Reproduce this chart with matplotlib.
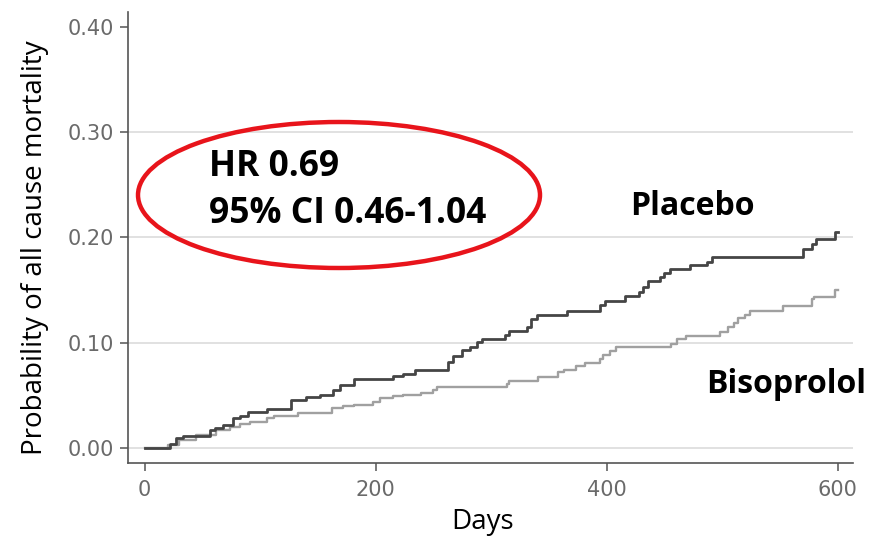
#!/usr/bin/env python3
"""Kaplan-Meier style curves: all cause mortality, bisoprolol vs placebo."""

import matplotlib

matplotlib.use("Agg")
import matplotlib.pyplot as plt
from matplotlib.patches import Ellipse

# cumulative event probability, step changes (day, probability)
placebo_days = [0, 22, 27, 33, 57, 61, 68, 77, 83, 90, 106, 127, 140, 152, 163, 169, 181,
                215, 224, 234, 263, 267, 275, 282, 288, 292, 312, 316, 331, 335, 340, 366,
                394, 399, 416, 428, 432, 436, 446, 450, 455, 472, 487, 491, 570, 578, 581,
                598, 600]
placebo_prob = [0.0, 0.004, 0.009, 0.011, 0.017, 0.019, 0.022, 0.028, 0.030, 0.034, 0.037,
                0.046, 0.048, 0.050, 0.055, 0.060, 0.065, 0.068, 0.070, 0.074, 0.082, 0.087,
                0.093, 0.096, 0.101, 0.103, 0.107, 0.111, 0.115, 0.122, 0.126, 0.130, 0.136,
                0.140, 0.144, 0.148, 0.153, 0.159, 0.162, 0.166, 0.170, 0.174, 0.177, 0.181,
                0.189, 0.194, 0.198, 0.205, 0.205]

bisoprolol_days = [0, 20, 30, 45, 62, 74, 83, 91, 106, 112, 133, 162, 172, 181, 198, 204,
                   215, 224, 239, 250, 253, 314, 316, 341, 358, 363, 374, 381, 394, 397, 403,
                   408, 456, 461, 469, 498, 505, 510, 514, 520, 524, 553, 578, 580, 598, 600]
bisoprolol_prob = [0.0, 0.003, 0.008, 0.012, 0.017, 0.020, 0.023, 0.025, 0.028, 0.030,
                   0.033, 0.038, 0.040, 0.041, 0.044, 0.047, 0.049, 0.050, 0.052, 0.055,
                   0.058, 0.061, 0.064, 0.067, 0.072, 0.074, 0.078, 0.081, 0.084, 0.088,
                   0.092, 0.096, 0.099, 0.103, 0.106, 0.110, 0.115, 0.119, 0.123, 0.126,
                   0.130, 0.135, 0.141, 0.143, 0.150, 0.150]

x_ticks = [0, 200, 400, 600]
y_ticks = [0.0, 0.1, 0.2, 0.3, 0.4]
y_grid = [0.0, 0.1, 0.2, 0.3]

W, H = 881, 543
SANS = ["Open Sans", "DejaVu Sans"]


def fx(px):
    return px / W


def fy(py):
    return 1 - py / H


fig = plt.figure(figsize=(W / 100, H / 100), dpi=100)
ax = fig.add_axes([fx(128), fy(463), fx(853) - fx(128), fy(12) - fy(463)])

ax.set_xlim(-14.3, 613.4)
ax.set_ylim(-0.0143, 0.414)

for yv in y_grid:
    ax.axhline(yv, color="#dedede", lw=1.3, zorder=1)

ax.step(bisoprolol_days, bisoprolol_prob, where="post", color="#a0a0a0", lw=1.7, zorder=2)
ax.step(placebo_days, placebo_prob, where="post", color="#454545", lw=2.0, zorder=3)

for side in ("top", "right"):
    ax.spines[side].set_visible(False)
for side in ("left", "bottom"):
    ax.spines[side].set_color("#555555")
    ax.spines[side].set_linewidth(1.2)

ax.set_xticks(x_ticks)
ax.set_yticks(y_ticks)
ax.set_yticklabels([f"{v:.2f}" for v in y_ticks])
ax.tick_params(axis="both", colors="#555555", labelcolor="#6a6a6a", labelsize=15,
               length=6, width=1.1)
ax.tick_params(axis="x", pad=6)
ax.tick_params(axis="y", pad=4)
for lab in ax.get_xticklabels() + ax.get_yticklabels():
    lab.set_family("DejaVu Sans")

fig.text(fx(35), fy(248), "Probability of all cause mortality", rotation=90,
         ha="center", va="center", fontsize=20, family=SANS)
fig.text(fx(483), fy(522), "Days", ha="center", va="center", fontsize=20, family=SANS)

fig.text(fx(209), fy(176), "HR 0.69", ha="left", va="baseline", fontsize=25.5,
         fontweight="bold", family=SANS)
fig.text(fx(209), fy(223), "95% CI 0.46-1.04", ha="left", va="baseline", fontsize=25.5,
         fontweight="bold", family=SANS)
fig.text(fx(630), fy(215), "Placebo", ha="left", va="baseline", fontsize=23,
         fontweight="bold", family=SANS)
fig.text(fx(706), fy(393), "Bisoprolol", ha="left", va="baseline", fontsize=23,
         fontweight="bold", family=SANS)

fig.patches.append(Ellipse((fx(339), fy(195)), fx(402), 146 / H, transform=fig.transFigure,
                           fill=False, edgecolor="#e8141b", lw=3.2))

fig.savefig("out.png", dpi=100)
